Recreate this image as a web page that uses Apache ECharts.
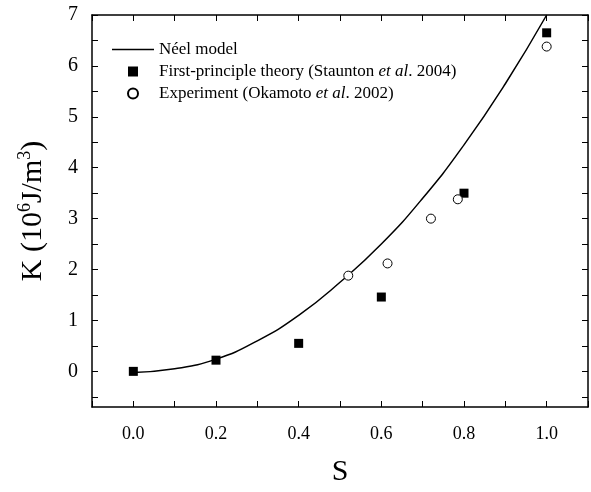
<!DOCTYPE html>
<html><head><meta charset="utf-8">
<script src="https://cdn.jsdelivr.net/npm/echarts@6/dist/echarts.min.js"></script>
<style>html,body{margin:0;background:#fff}#c{width:591px;height:492px}</style>
</head><body><div id="c"></div>
<script>
// Néel model curve
const neelS = [0, 0.1, 0.2, 0.3, 0.4, 0.5, 0.6, 0.7, 0.8, 0.9, 1.0]
const neelK = [-0.02, 0.05, 0.24, 0.6, 1.1, 1.75, 2.5, 3.4, 4.45, 5.65, 7.0]
// First-principle theory
const theoryS = [0, 0.2, 0.4, 0.6, 0.8, 1.0]
const theoryK = [0, 0.22, 0.55, 1.46, 3.5, 6.65]
// Experiment
const expS = [0.52, 0.615, 0.72, 0.785, 1.0]
const expK = [1.88, 2.12, 3.0, 3.38, 6.38]
// y ticks and labels
const yTicks = [-0.5, 0, 0.5, 1, 1.5, 2, 2.5, 3, 3.5, 4, 4.5, 5, 5.5, 6, 6.5, 7]
const yLabels = [0, 1, 2, 3, 4, 5, 6, 7]

const font = 'Liberation Serif'
const zip = (a, b) => a.map((v, i) => [v, b[i]])

const myChart = echarts.init(document.getElementById('c'))
const axisCommon = {
  axisLine: { show: true, onZero: false, lineStyle: { color: '#000', width: 1.5 } },
  axisTick: { inside: true, length: 6, lineStyle: { color: '#000' } },
  splitLine: { show: false }
}
const yCommon = {
  ...axisCommon, type: 'value', min: -0.7, max: 7,
  axisTick: { ...axisCommon.axisTick, customValues: yTicks }
}
const option = {
  animation: false,
  textStyle: { fontFamily: font },
  grid: { left: 92, right: 1, top: 15, bottom: 71 },
  legend: {
    orient: 'vertical', left: 107, top: 36, itemGap: 5,
    itemWidth: 42, itemHeight: 10, symbolKeepAspect: true,
    textStyle: {
      fontFamily: font, fontSize: 17, color: '#000',
      rich: { i: { fontStyle: 'italic', fontFamily: font, fontSize: 17 } }
    },
    formatter: n => n.replace('et al.', '{i|et al}.'),
    data: [
      { name: 'Néel model', icon: 'path://M0,0H42V1.5H0Z' },
      { name: 'First-principle theory (Staunton et al. 2004)', icon: 'path://M0,0H10V10H0Z' },
      { name: 'Experiment (Okamoto et al. 2002)' }
    ]
  },
  xAxis: [
    {
      ...axisCommon, type: 'value', min: -0.1, max: 1.1, interval: 0.1,
      name: 'S', nameLocation: 'middle', nameGap: 50,
      nameTextStyle: { fontFamily: font, fontSize: 30, color: '#000' },
      axisLabel: {
        fontFamily: font, fontSize: 18, color: '#000', margin: 18,
        formatter: v => { const r = Math.round(v * 10); return (r >= 0 && r % 2 === 0) ? (r / 10).toFixed(1) : '' }
      }
    },
    { ...axisCommon, type: 'value', position: 'top', min: -0.1, max: 1.1, interval: 0.1, axisLabel: { show: false } }
  ],
  yAxis: [
    {
      ...yCommon,
      name: '{a|K (10}{s|6}{a|J/m}{s|3}{a|)}', nameLocation: 'middle', nameGap: 42, nameRotate: 90,
      nameTextStyle: {
        rich: {
          a: { fontFamily: font, fontSize: 30, color: '#000' },
          s: { fontFamily: font, fontSize: 18, color: '#000', verticalAlign: 'top', padding: [0, 0, 16, 0] }
        }
      },
      axisLabel: {
        fontFamily: font, fontSize: 20, color: '#000', margin: 14,
        customValues: yLabels
      }
    },
    { ...yCommon, position: 'right', axisLabel: { show: false } }
  ],
  series: [
    {
      name: 'Néel model', type: 'line', smooth: true, showSymbol: false,
      lineStyle: { color: '#000', width: 1.5 }, itemStyle: { color: '#000' },
      data: zip(neelS, neelK), z: 1
    },
    {
      name: 'First-principle theory (Staunton et al. 2004)', type: 'scatter',
      symbol: 'rect', symbolSize: 9, itemStyle: { color: '#000', opacity: 1 },
      data: zip(theoryS, theoryK)
    },
    {
      name: 'Experiment (Okamoto et al. 2002)', type: 'scatter',
      symbol: 'circle', symbolSize: 9,
      itemStyle: { color: '#fff', borderColor: '#000', borderWidth: 1, opacity: 1 },
      data: zip(expS, expK)
    }
  ]
}
option && myChart.setOption(option)
</script></body></html>
